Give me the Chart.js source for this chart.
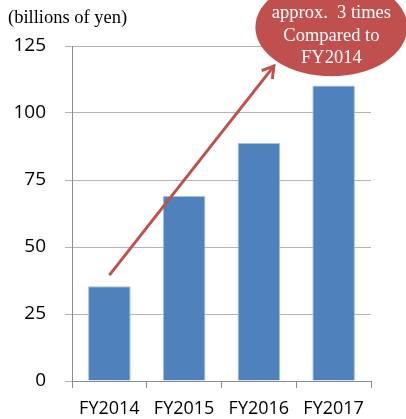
<!DOCTYPE html>
<html>
<head>
<meta charset="utf-8">
<script src="https://cdn.jsdelivr.net/npm/chart.js@4/dist/chart.umd.min.js"></script>
<style>
html,body{margin:0;padding:0;background:#fff;}
#wrap{width:406px;height:419px;position:relative;}
</style>
</head>
<body>
<div id="wrap"><canvas id="c" width="406" height="419"></canvas></div>
<script>
const categories = ["FY2014", "FY2015", "FY2016", "FY2017"];
const values = [35.4, 69, 88.8, 110.3];
const yTicks = [0, 25, 50, 75, 100, 125];
const unitLabel = "(billions of yen)";
const calloutLines = ["approx.  3 times", "Compared to", "FY2014"];

const annotationPlugin = {
  id: 'callout',
  afterDatasetsDraw(chart) {
    const ctx = chart.ctx;
    const xs = chart.scales.x, ys = chart.scales.y;
    const x0 = xs.getPixelForValue(0);
    const step = xs.getPixelForValue(1) - x0;
    const px = i => x0 + i * step;
    // arrow
    const sx = px(0), sy = ys.getPixelForValue(39.5);
    const ex = px(2.2), ey = ys.getPixelForValue(117.5);
    ctx.save();
    ctx.strokeStyle = '#C0504D';
    ctx.lineWidth = 3;
    ctx.lineCap = 'butt';
    ctx.beginPath();
    ctx.moveTo(sx, sy);
    ctx.lineTo(ex, ey);
    ctx.stroke();
    const ang = Math.atan2(ey - sy, ex - sx);
    const hl = 13, ha = 0.55;
    ctx.beginPath();
    ctx.moveTo(ex - hl * Math.cos(ang - ha), ey - hl * Math.sin(ang - ha));
    ctx.lineTo(ex, ey);
    ctx.lineTo(ex - hl * Math.cos(ang + ha), ey - hl * Math.sin(ang + ha));
    ctx.lineJoin = 'miter';
    ctx.stroke();
    // ellipse
    const cx = px(2.97), cy = ys.getPixelForValue(132);
    ctx.fillStyle = '#C0504D';
    ctx.beginPath();
    ctx.ellipse(cx, cy, 76, 49, 0, 0, Math.PI * 2);
    ctx.fill();
    ctx.fillStyle = '#ffffff';
    ctx.font = '18.5px "Liberation Serif", "Times New Roman", serif';
    ctx.textAlign = 'center';
    ctx.textBaseline = 'middle';
    calloutLines.forEach((t, i) => ctx.fillText(t, cx, 13.5 + i * 22.5));
    // unit label
    ctx.fillStyle = '#000000';
    ctx.textAlign = 'left';
    ctx.textBaseline = 'alphabetic';
    ctx.fillText(unitLabel, 8, 23);
    ctx.restore();
  }
};

new Chart(document.getElementById('c'), {
  type: 'bar',
  data: {
    labels: categories,
    datasets: [{
      data: values,
      backgroundColor: '#4F81BD',
      borderColor: '#A7C0DE',
      borderWidth: 1,
      categoryPercentage: 1,
      barPercentage: 0.57
    }]
  },
  options: {
    responsive: false,
    animation: false,
    devicePixelRatio: 1,
    layout: { padding: { left: 0, right: 35, top: 46, bottom: 0 } },
    plugins: { legend: { display: false }, tooltip: { enabled: false }, title: { display: false } },
    scales: {
      x: {
        offset: true,
        grid: { display: true, drawOnChartArea: false, drawTicks: true, tickLength: 7, color: '#8c8c8c', offset: true },
        border: { display: true, color: '#8c8c8c', width: 1 },
        ticks: { color: '#000', font: { family: '"Open Sans", sans-serif', size: 18 }, padding: 10, maxRotation: 0, autoSkip: false },
        afterFit: s => { s.height = 38; }
      },
      y: {
        min: 0, max: 125,
        afterBuildTicks: s => { s.ticks = yTicks.map(v => ({ value: v })); },
        grid: { color: '#b3b3b3', lineWidth: 1, tickLength: 7, drawTicks: true },
        border: { display: true, color: '#8c8c8c', width: 1 },
        ticks: { color: '#000', font: { family: '"Open Sans", sans-serif', size: 19 }, padding: 19 },
        afterFit: s => { s.width = 72; }
      }
    }
  },
  plugins: [annotationPlugin]
});
</script>
</body>
</html>
